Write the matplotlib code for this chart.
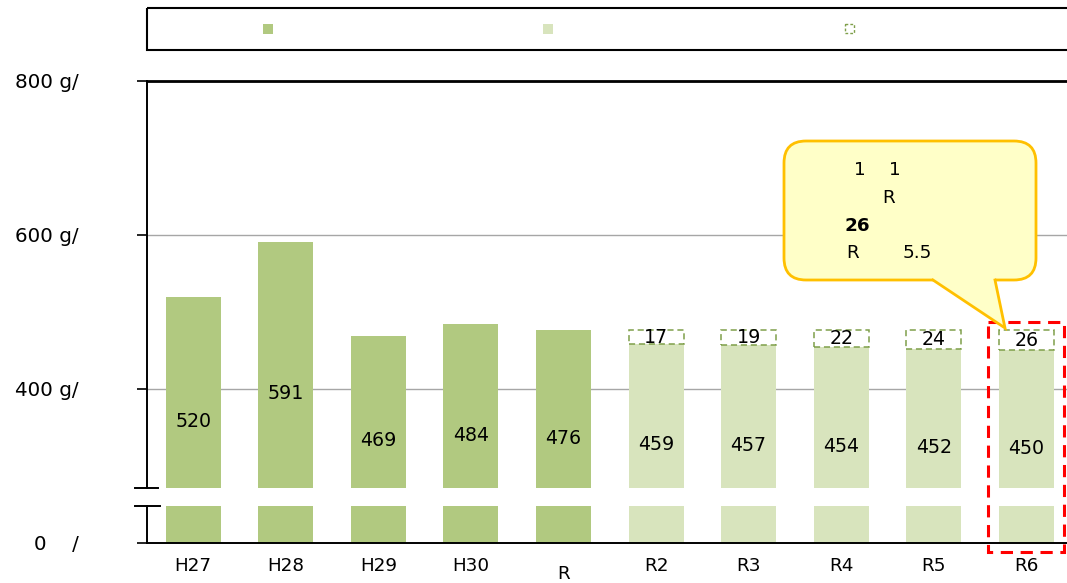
import matplotlib
matplotlib.use("Agg")
import matplotlib.pyplot as plt
from matplotlib.patches import Rectangle, FancyBboxPatch, Polygon
from matplotlib.lines import Line2D
from matplotlib.transforms import ScaledTranslation

plt.rcParams['font.family'] = ['DejaVu Sans', 'Noto Sans CJK JP']

# ---- data ----
categories = ["H27", "H28", "H29", "H30", "R", "R2", "R3", "R4", "R5", "R6"]
actual = [520, 591, 469, 484, 476, None, None, None, None, None]
target = [None, None, None, None, None, 459, 457, 454, 452, 450]
reduction = [None, None, None, None, None, 17, 19, 22, 24, 26]
ytick_values = [400, 600, 800]
ytick_labels = ["400 g/", "600 g/", "800 g/"]

DARK = "#b1c980"
LIGHT = "#d8e4bd"
DASH_EDGE = "#7f9f4a"
FS = 13.2
FS_Y = 14.3

W, H = 1067, 583
fig = plt.figure(figsize=(W / 100, H / 100), dpi=100)


def fx(px):
    return px / W


def fy(py):
    return 1 - py / H


# axis geometry (upper part 271..800, lower part 0..48)
upper_lo, upper_hi = 271.4, 800
lower_lo, lower_hi = 0, 48
x_left, x_right = 147, 1067
ax = fig.add_axes([fx(x_left), fy(488), fx(x_right - x_left), fy(81) - fy(488)])
axl = fig.add_axes([fx(x_left), fy(543), fx(x_right - x_left), fy(506) - fy(543)])

xs = list(range(len(categories)))
bw = 0.594
xlim = (-0.5, 9.44)

for a in (ax, axl):
    a.set_xlim(*xlim)
    for i, x in enumerate(xs):
        if actual[i] is not None:
            a.bar(x, actual[i], width=bw, color=DARK, zorder=2)
        if target[i] is not None:
            a.bar(x, target[i], width=bw, color=LIGHT, zorder=2)
            a.bar(x, reduction[i], width=bw, bottom=target[i], facecolor="white",
                  edgecolor=DASH_EDGE, linestyle=(0, (4, 2.5)), linewidth=1.1, zorder=2)

ax.set_ylim(upper_lo, upper_hi)
axl.set_ylim(lower_lo, lower_hi)

# upper axes styling
for s in ("right", "bottom"):
    ax.spines[s].set_visible(False)
ax.spines["top"].set_linewidth(2.0)
ax.spines["top"].set_color("black")
ax.spines["left"].set_linewidth(1.4)
ax.set_yticks(ytick_values)
ax.set_yticklabels(ytick_labels)
ax.tick_params(axis="y", length=7, width=1.2, pad=42, labelsize=FS_Y, colors="black")
ax.set_xticks([])
ax.yaxis.grid(True, color="#a6a6a6", linewidth=1.0, zorder=0)
ax.set_axisbelow(True)

# lower axes styling
for s in ("right", "top"):
    axl.spines[s].set_visible(False)
axl.spines["left"].set_linewidth(1.4)
axl.spines["bottom"].set_linewidth(1.4)
axl.set_yticks([0])
axl.set_yticklabels(["0    /"])
axl.tick_params(axis="y", length=7, width=1.2, pad=42, labelsize=FS_Y)
axl.set_xticks(xs)
axl.set_xticklabels(categories)
axl.tick_params(axis="x", length=0, pad=10, labelsize=FS)
lab_r = axl.get_xticklabels()[4]
lab_r.set_transform(lab_r.get_transform() + ScaledTranslation(0, -6 / 72, fig.dpi_scale_trans))

# value labels
label_base = 196
for i, x in enumerate(xs):
    v = actual[i] if actual[i] is not None else target[i]
    ax.text(x, (v + label_base) / 2, str(v), ha="center", va="center", fontsize=FS + 0.5, zorder=5)
    if reduction[i] is not None:
        ax.text(x, target[i] + reduction[i] / 2, str(reduction[i]), ha="center", va="center",
                fontsize=FS + 0.5, zorder=5)

# overlay in pixel coordinates for legend, break marks and callout
ov = fig.add_axes([0, 0, 1, 1], zorder=10)
ov.set_xlim(0, W)
ov.set_ylim(H, 0)
ov.axis("off")
ov.patch.set_alpha(0)

# legend frame and keys
ov.add_patch(Rectangle((147, 8), 925, 42, facecolor="none", edgecolor="black", linewidth=1.5))
ov.add_patch(Rectangle((263, 24), 10, 10, facecolor=DARK, edgecolor="none"))
ov.add_patch(Rectangle((543, 24), 10, 10, facecolor=LIGHT, edgecolor="none"))
ov.add_patch(Rectangle((845, 24), 9, 9, facecolor="white", edgecolor=DASH_EDGE,
                       linestyle=(0, (2, 1.5)), linewidth=1.0))

# axis break marks
ov.add_line(Line2D([135, 158], [488, 488], color="black", linewidth=1.4))
ov.add_line(Line2D([135, 160], [506, 506], color="black", linewidth=1.4))

# highlight box around the final year
ov.add_patch(Rectangle((988, 322), 76, 230, facecolor="none", edgecolor="#ff0000",
                       linestyle=(0, (4, 2.5)), linewidth=2.2))

# speech-bubble callout
CALL_FACE = "#ffffc8"
CALL_EDGE = "#ffc000"
ov.add_patch(FancyBboxPatch((784, 141), 252, 139, boxstyle="round,pad=0,rounding_size=22",
                            facecolor=CALL_FACE, edgecolor=CALL_EDGE, linewidth=2.0))
ov.add_patch(Polygon([(933, 276), (933, 280), (1005, 328), (995, 280), (995, 276)],
                     closed=True, facecolor=CALL_FACE, edgecolor="none", zorder=3))
ov.add_line(Line2D([933, 1005, 995], [280, 328, 280], color=CALL_EDGE, linewidth=2.0,
                   solid_joinstyle="miter", zorder=4))

ov.text(860, 170, "1", ha="center", va="center", fontsize=FS)
ov.text(895, 170, "1", ha="center", va="center", fontsize=FS)
ov.text(889, 198, "R", ha="center", va="center", fontsize=FS)
ov.text(857, 226, "26", ha="center", va="center", fontsize=FS, fontweight="bold")
ov.text(853, 253, "R", ha="center", va="center", fontsize=FS)
ov.text(917, 253, "5.5", ha="center", va="center", fontsize=FS)

fig.savefig("out.png", dpi=100)
